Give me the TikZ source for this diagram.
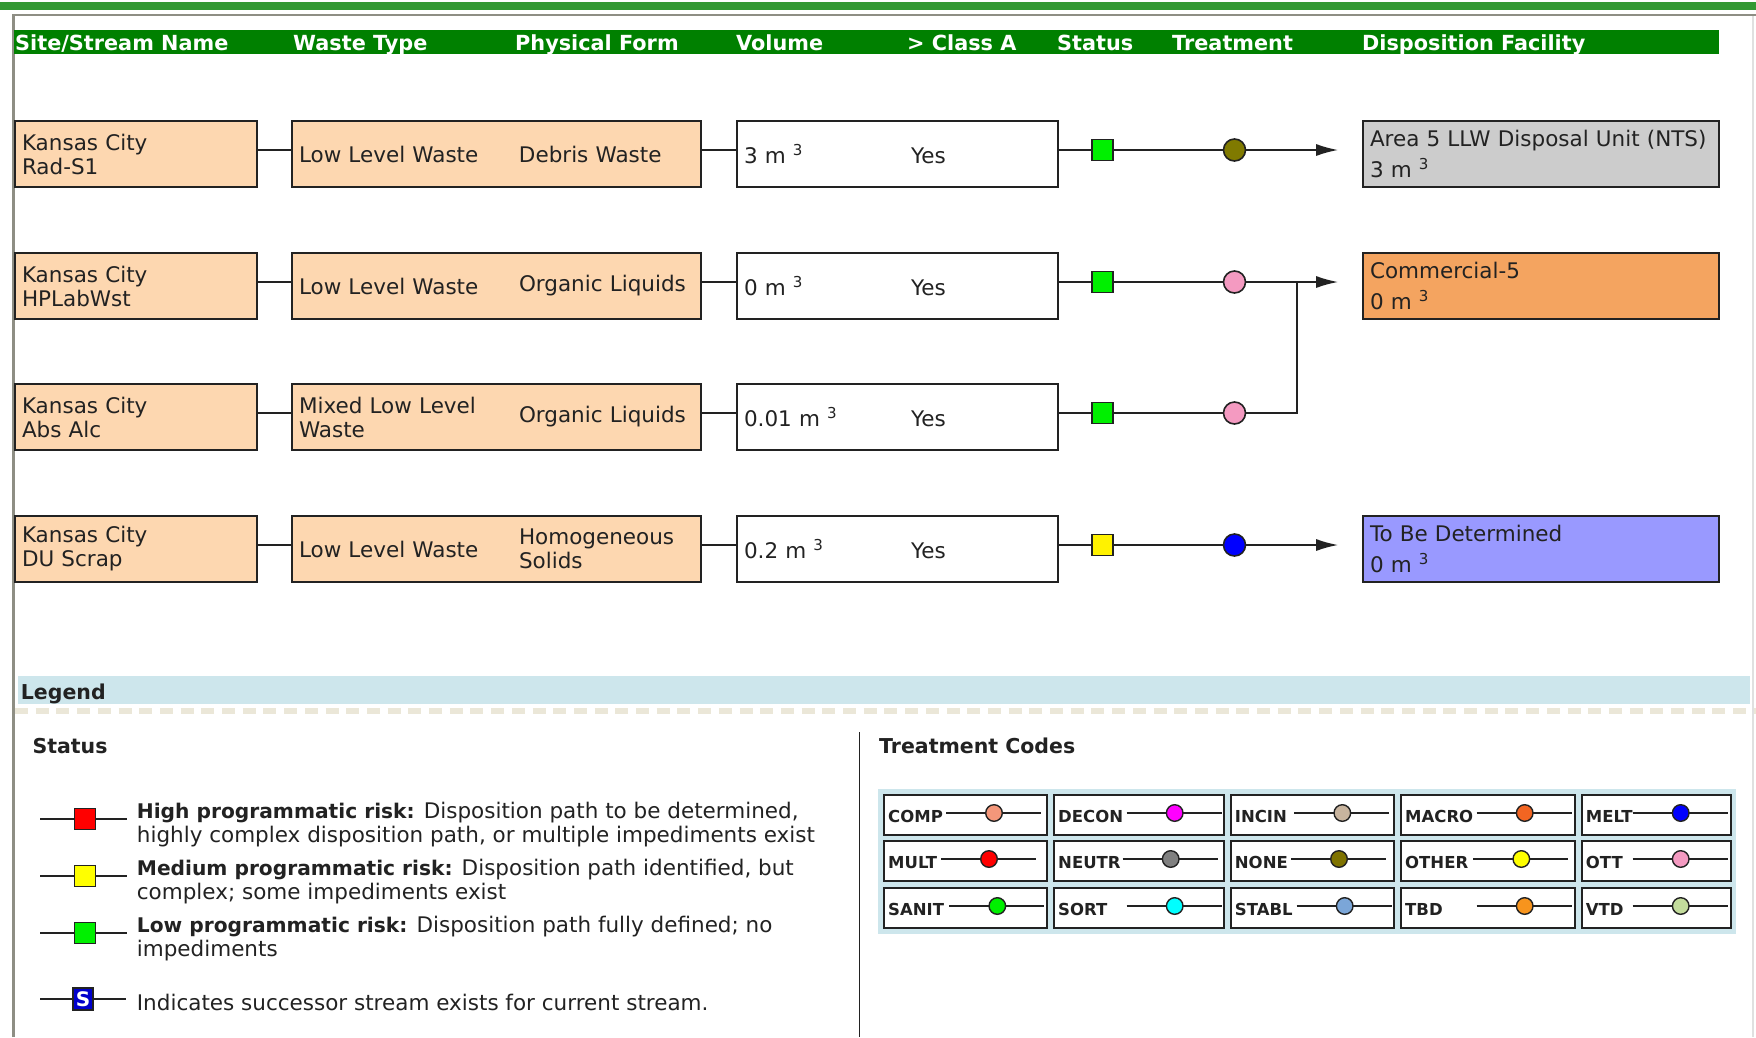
\documentclass[tikz,border=0pt]{standalone}
\usepackage{fontspec}
\setmainfont{DejaVu Sans}
\usetikzlibrary{arrows.meta}
\definecolor{ink}{HTML}{222222}
\definecolor{peach}{HTML}{FDD7B0}
\definecolor{hdgreen}{HTML}{008000}
\definecolor{stripgreen}{HTML}{339933}
\definecolor{framegray}{HTML}{8E8E84}
\definecolor{lgblue}{HTML}{CDE6EC}
\definecolor{dashbeige}{HTML}{EBE7D8}
\definecolor{okgreen}{HTML}{00F000}
\definecolor{olivedot}{HTML}{807A00}
\definecolor{pinkdot}{HTML}{F49AC1}
\definecolor{ntsgray}{HTML}{CCCCCC}
\definecolor{commorange}{HTML}{F4A460}
\definecolor{tbdblue}{HTML}{9999FF}
\definecolor{sblue}{HTML}{0000CC}
\definecolor{cComp}{HTML}{F4977A}
\definecolor{cDecon}{HTML}{FF00FF}
\definecolor{cIncin}{HTML}{C8B49E}
\definecolor{cMacro}{HTML}{F26522}
\definecolor{cMelt}{HTML}{0000FF}
\definecolor{cMult}{HTML}{FF0000}
\definecolor{cNeutr}{HTML}{808080}
\definecolor{cNone}{HTML}{7F7300}
\definecolor{cOther}{HTML}{FFFF00}
\definecolor{cSort}{HTML}{00FFFF}
\definecolor{cStabl}{HTML}{7BA6D8}
\definecolor{cTbd}{HTML}{F7941D}
\definecolor{cVtd}{HTML}{C3DC9C}
\newcommand\riskbf[1]{{\bfseries\fontsize{20.2}{24}\selectfont #1}}
\begin{document}
\begin{tikzpicture}[x=1pt,y=-1pt,
	every node/.style={text=ink,font=\fontsize{21.5}{24}\selectfont},
	box/.style={draw=ink,line width=1.6pt,minimum height=66pt,inner xsep=7pt,inner ysep=0pt,align=left},
	hd/.style={anchor=base west,inner sep=0pt,text=white,font=\bfseries\fontsize{20.8}{24}\selectfont},
	bhd/.style={anchor=base west,inner sep=0pt,font=\bfseries\fontsize{20.5}{24}\selectfont},
	stat/.style={draw=ink,line width=1.6pt,minimum size=21pt,inner sep=0pt},
	trt/.style={circle,draw=ink,line width=1.6pt,minimum size=22pt,inner sep=0pt},
	dot/.style={circle,draw=ink,line width=1.4pt,minimum size=16.6pt,inner sep=0pt},
	code/.style={anchor=base west,inner sep=0pt,font=\bfseries\fontsize{16.5}{18}\selectfont},
	wire/.style={draw=ink,line width=1.8pt}]
\useasboundingbox (0,0) rectangle (1756,1037);
\fill[stripgreen] (0,1.7) rectangle (1756,10);
\draw[framegray,line width=2.5pt] (13.7,1037) -- (13.7,15) -- (1756,15);
\draw[black!12,line width=2pt] (1753,16) -- (1753,1037);
\fill[hdgreen] (14,30) rectangle (1719,54);
\foreach \x/\t [count=\k] in {15/{Site/Stream Name},293/Waste Type,515/Physical Form,736/Volume,907/> Class A,1057/Status,1172/Treatment,1362/Disposition Facility}
	\node[hd] (head\k) at (\x,50) {\t};
\foreach \k/\c/\site/\wt/\pf/\vol/\sc/\tc in {
	1/154/Rad-S1/Low Level Waste/Debris Waste/3/okgreen/olivedot,
	2/286/HPLabWst/Low Level Waste/Organic Liquids/0/okgreen/pinkdot,
	3/417/Abs Alc/{Mixed Low Level\\Waste}/Organic Liquids/0.01/okgreen/pinkdot,
	4/549/DU Scrap/Low Level Waste/{Homogeneous\\Solids}/0.2/yellow/cMelt}{
	\node[box,fill=peach,text width=228pt] (a\k) at (136,\c) {Kansas City\\\site};
	\node[box,fill=peach,text width=395pt] (w\k) at (496.5,\c) {\parbox[c]{220pt}{\raggedright\wt}\parbox[c]{175pt}{\raggedright\pf}};
	\node[box,fill=white,text width=307pt] (v\k) at (897.5,\c) {\makebox[167pt][l]{\vol{} m~\textsuperscript{3}}Yes};
	\node[stat,fill=\sc] (s\k) at (1102.7,\c-4) {};
	\node[trt,fill=\tc] (t\k) at (1234.5,\c-4) {};
	\draw[wire] (a\k.east |- s\k) -- (w\k.west |- s\k) (w\k.east |- s\k) -- (v\k.west |- s\k) (v\k.east |- s\k) -- (s\k) -- (t\k);
}
\node[box,fill=ntsgray,text width=342pt] (f1) at (1541,154) {Area 5 LLW Disposal Unit (NTS)\\[7pt]3 m~\textsuperscript{3}};
\node[box,fill=commorange,text width=342pt] (f2) at (1541,286) {Commercial-5\\[7pt]0 m~\textsuperscript{3}};
\node[box,fill=tbdblue,text width=342pt] (f4) at (1541,549) {To Be Determined\\[7pt]0 m~\textsuperscript{3}};
\coordinate (j) at (1297,282);
\foreach \k in {1,2,4}
	\draw[wire,-{Latex[length=22pt,width=12pt]},shorten >=24pt] (t\k) -- (f\k.west |- t\k);
\draw[wire] (t3) -| (j);
\fill[lgblue] (18,676) rectangle (1750,704);
\node[bhd] (lg) at (20.7,699.3) {Legend};
\draw[dashbeige,line width=5.5pt,dash pattern=on 13pt off 7.7pt] (15,711) -- (1756,711);
\node[bhd] (st) at (32.3,753.3) {Status};
\node[bhd] (tcode) at (879,753.3) {Treatment Codes};
\draw[ink,line width=1.5pt] (859.5,732) -- (859.5,1037);
\foreach \k/\y/\col/\txt in {
	1/819/cMult/{\riskbf{High programmatic risk:} Disposition path to be determined,\\highly complex disposition path, or multiple impediments exist},
	2/876/cOther/{\riskbf{Medium programmatic risk:} Disposition path identified, but\\complex; some impediments exist},
	3/933/okgreen/{\riskbf{Low programmatic risk:} Disposition path fully defined; no\\impediments}}{
	\draw[wire] (40,\y) -- (127,\y);
	\node[stat,fill=\col] (r\k) at (85,\y) {};
	\node[anchor=base west,inner sep=0pt,align=left] (rt\k) at (136.7,\y+23.5) {\txt};
}
\draw[wire] (40,999) -- (126,999);
\node[stat,minimum width=20pt,minimum height=22pt,fill=sblue,text=white,font=\bfseries\fontsize{20}{22}\selectfont] (sx) at (83,999) {S};
\node[anchor=base west,inner sep=0pt] (sxt) at (136.7,1010) {Indicates successor stream exists for current stream.};
\fill[lgblue] (878.3,789.3) rectangle (1736,934);
\foreach \ca/\cb in {884/1047.3,1054/1224,1230.7/1394.3,1401/1575,1581.7/1731}
	\foreach \yy in {813,859,906}
		\draw[ink,line width=1.8pt,fill=white] (\ca,\yy-18) rectangle (\cb,\yy+22);
\foreach \lbl/\col/\ca/\xe/\yy in {
	COMP/cComp/884/1041/813, DECON/cDecon/1054/1221.7/813, INCIN/cIncin/1230.7/1389.3/813,
	MACRO/cMacro/1401/1571.7/813, MELT/cMelt/1581.7/1727.7/813,
	MULT/cMult/884/1036/859, NEUTR/cNeutr/1054/1217.7/859, NONE/cNone/1230.7/1386/859,
	OTHER/cOther/1401/1568.3/859, OTT/pinkdot/1581.7/1727.7/859,
	SANIT/okgreen/884/1044.3/906, SORT/cSort/1054/1221.7/906, STABL/cStabl/1230.7/1391.7/906,
	TBD/cTbd/1401/1571.7/906, VTD/cVtd/1581.7/1727.7/906}{
	\draw[wire] (\xe-95,\yy) -- (\xe,\yy);
	\node[code] (\lbl) at (\ca+4,\yy+9) {\lbl};
	\node[dot,fill=\col] (\lbl-dot) at (\xe-47,\yy) {};
}
\end{tikzpicture}
\end{document}
